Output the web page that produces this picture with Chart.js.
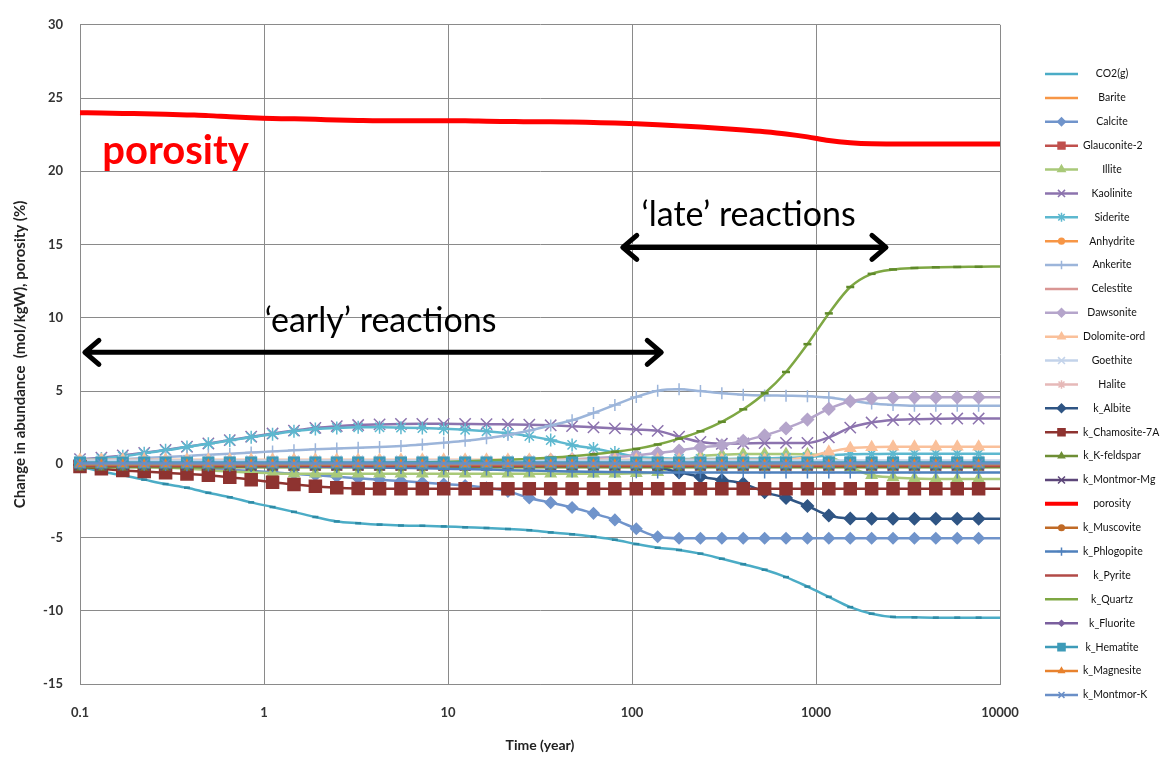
<!DOCTYPE html>
<html>
<head>
<meta charset="utf-8">
<title>Change in abundance vs time</title>
<script src="https://cdn.jsdelivr.net/npm/chart.js@4.4.1/dist/chart.umd.min.js"></script>
<style>
  html, body { margin: 0; padding: 0; background: #fff; }
  #wrap { width: 1169px; height: 757px; position: relative; }
</style>
</head>
<body>
<div id="wrap"><canvas id="abundanceChart"></canvas></div>
<script>
// ---------- data ----------
const time = [0.1, 0.1307, 0.1708, 0.2233, 0.2918, 0.3814, 0.4985, 0.6516, 0.8517, 1.113,
  1.455, 1.902, 2.486, 3.249, 4.247, 5.55, 7.254, 9.478, 12.39, 16.19,
  21.17, 27.66, 36.15, 47.25, 61.76, 80.72, 105.5, 137.9, 180.2, 235.5,
  307.8, 402.3, 525.8, 687.2, 898.4, 1174, 1535, 2006, 2622, 3427,
  4479, 5855, 7652, 10000];

const xTickValues = [0.1, 1, 10, 100, 1000, 10000];
const xTickLabels = ["0.1", "1", "10", "100", "1000", "10000"];
const yTickValues = [-15, -10, -5, 0, 5, 10, 15, 20, 25, 30];

const co2 = [-0.15, -0.5, -0.75, -1.05, -1.35, -1.6, -1.95, -2.25, -2.6, -2.92,
  -3.25, -3.6, -3.9, -4.02, -4.12, -4.18, -4.2, -4.24, -4.3, -4.35,
  -4.42, -4.5, -4.65, -4.78, -4.95, -5.15, -5.45, -5.7, -5.85, -6.1,
  -6.45, -6.82, -7.2, -7.7, -8.35, -9.05, -9.75, -10.2, -10.42, -10.45,
  -10.47, -10.47, -10.47, -10.47];
const barite = [0, 0, 0, 0, 0, 0, 0, 0, 0, 0, 0, 0, 0, 0, 0, 0, 0, 0, 0, 0, 0, 0,
  0, 0, 0, 0, 0, 0, 0, 0, 0, 0, 0, 0, 0, 0, 0, 0, 0, 0, 0, 0, 0, 0];
const calcite = [0, -0.02, -0.05, -0.1, -0.15, -0.22, -0.3, -0.38, -0.45, -0.55,
  -0.65, -0.75, -0.85, -0.95, -1.05, -1.15, -1.25, -1.35, -1.45, -1.6,
  -1.85, -2.3, -2.62, -2.95, -3.35, -3.8, -4.4, -4.95, -5.05, -5.05,
  -5.05, -5.05, -5.05, -5.05, -5.05, -5.05, -5.05, -5.05, -5.05, -5.05,
  -5.05, -5.05, -5.05, -5.05];
const glauconite = [-0.05, -0.05, -0.05, -0.05, -0.05, -0.05, -0.05, -0.05, -0.05, -0.05, -0.05,
  -0.05, -0.05, -0.05, -0.05, -0.05, -0.05, -0.05, -0.05, -0.05, -0.05, -0.05,
  -0.05, -0.05, -0.05, -0.05, -0.05, -0.05, -0.05, -0.05, -0.05, -0.05, -0.05,
  -0.05, -0.05, -0.05, -0.05, -0.05, -0.05, -0.05, -0.05, -0.05, -0.05, -0.05];
const illite = [0, -0.05, -0.1, -0.15, -0.22, -0.3, -0.4, -0.5, -0.57, -0.62,
  -0.65, -0.65, -0.65, -0.65, -0.65, -0.65, -0.65, -0.65, -0.65, -0.65,
  -0.65, -0.65, -0.65, -0.65, -0.65, -0.65, -0.62, -0.55, 0.1, 0.55,
  0.65, 0.7, 0.7, 0.7, 0.68, 0.55, -0.2, -0.75, -0.9, -0.97,
  -1.0, -1.0, -1.0, -1.0];
const kaolinite = [0.35, 0.45, 0.6, 0.78, 0.98, 1.2, 1.42, 1.65, 1.88, 2.1,
  2.3, 2.48, 2.6, 2.68, 2.72, 2.75, 2.76, 2.76, 2.75, 2.74,
  2.72, 2.7, 2.66, 2.6, 2.52, 2.45, 2.38, 2.28, 1.88, 1.52,
  1.4, 1.42, 1.45, 1.46, 1.46, 1.84, 2.5, 2.85, 3.02, 3.08,
  3.1, 3.12, 3.12, 3.12];
const siderite = [0.3, 0.4, 0.55, 0.75, 0.95, 1.18, 1.4, 1.62, 1.85, 2.05,
  2.25, 2.4, 2.48, 2.52, 2.52, 2.5, 2.47, 2.42, 2.35, 2.25,
  2.12, 1.92, 1.65, 1.32, 1.08, 0.8, 0.52, 0.42, 0.38, 0.36,
  0.36, 0.38, 0.4, 0.44, 0.5, 0.6, 0.68, 0.7, 0.72, 0.72,
  0.72, 0.72, 0.72, 0.72];
const anhydrite = [0.05, 0.05, 0.05, 0.05, 0.05, 0.05, 0.05, 0.05, 0.05, 0.05, 0.05,
  0.05, 0.05, 0.05, 0.05, 0.05, 0.05, 0.05, 0.05, 0.05, 0.05, 0.05,
  0.05, 0.05, 0.05, 0.05, 0.05, 0.05, 0.05, 0.05, 0.05, 0.05, 0.05,
  0.05, 0.05, 0.05, 0.05, 0.05, 0.05, 0.05, 0.05, 0.05, 0.05, 0.05];
const ankerite = [0.25, 0.3, 0.35, 0.42, 0.5, 0.57, 0.65, 0.72, 0.8, 0.88,
  0.95, 1.02, 1.08, 1.13, 1.18, 1.25, 1.35, 1.47, 1.6, 1.78,
  2.0, 2.3, 2.65, 3.0, 3.5, 4.05, 4.6, 5.02, 5.12, 5.0,
  4.85, 4.75, 4.7, 4.68, 4.65, 4.55, 4.35, 4.15, 4.05, 4.0,
  4.0, 4.0, 4.0, 4.0];
const celestite = [0, 0, 0, 0, 0, 0, 0, 0, 0, 0, 0, 0, 0, 0, 0, 0, 0, 0, 0, 0, 0, 0,
  0, 0, 0, 0, 0, 0, 0, 0, 0, 0, 0, 0, 0, 0, 0, 0, 0, 0, 0, 0, 0, 0];
const dawsonite = [0.2, 0.2, 0.2, 0.2, 0.2, 0.2, 0.2, 0.2, 0.2, 0.2,
  0.2, 0.2, 0.2, 0.2, 0.2, 0.2, 0.2, 0.2, 0.2, 0.2,
  0.22, 0.25, 0.3, 0.35, 0.42, 0.5, 0.6, 0.77, 0.94, 1.15,
  1.3, 1.6, 1.97, 2.45, 3.05, 3.78, 4.3, 4.5, 4.55, 4.57,
  4.57, 4.57, 4.57, 4.57];
const dolomite = [0.3, 0.3, 0.3, 0.3, 0.3, 0.3, 0.3, 0.3, 0.3, 0.3,
  0.3, 0.3, 0.3, 0.3, 0.3, 0.3, 0.3, 0.3, 0.3, 0.3,
  0.3, 0.3, 0.3, 0.3, 0.3, 0.3, 0.3, 0.3, 0.3, 0.3,
  0.3, 0.3, 0.3, 0.32, 0.5, 0.85, 1.1, 1.17, 1.2, 1.2,
  1.2, 1.2, 1.2, 1.2];
const goethite = [0.25, 0.25, 0.25, 0.25, 0.25, 0.25, 0.25, 0.25, 0.25, 0.25, 0.25,
  0.25, 0.25, 0.25, 0.25, 0.25, 0.25, 0.25, 0.25, 0.25, 0.25, 0.25,
  0.25, 0.25, 0.25, 0.25, 0.25, 0.25, 0.25, 0.25, 0.25, 0.25, 0.25,
  0.25, 0.25, 0.25, 0.25, 0.25, 0.25, 0.25, 0.25, 0.25, 0.25, 0.25];
const halite = [0.1, 0.1, 0.1, 0.1, 0.1, 0.1, 0.1, 0.1, 0.1, 0.1, 0.1,
  0.1, 0.1, 0.1, 0.1, 0.1, 0.1, 0.1, 0.1, 0.1, 0.1, 0.1,
  0.1, 0.1, 0.1, 0.1, 0.1, 0.1, 0.1, 0.1, 0.1, 0.1, 0.1,
  0.1, 0.1, 0.1, 0.1, 0.1, 0.1, 0.1, 0.1, 0.1, 0.1, 0.1];
const albite = [-0.05, -0.05, -0.05, -0.05, -0.05, -0.05, -0.05, -0.05, -0.05, -0.05,
  -0.05, -0.05, -0.05, -0.05, -0.05, -0.05, -0.05, -0.05, -0.05, -0.05,
  -0.05, -0.05, -0.05, -0.05, -0.05, -0.05, -0.08, -0.2, -0.55, -0.85,
  -1.08, -1.32, -1.9, -2.3, -2.85, -3.5, -3.7, -3.72, -3.72, -3.72,
  -3.72, -3.72, -3.72, -3.72];
const chamosite = [-0.15, -0.3, -0.42, -0.5, -0.58, -0.66, -0.75, -0.88, -1.05, -1.22,
  -1.38, -1.5, -1.6, -1.65, -1.67, -1.67, -1.67, -1.67, -1.67, -1.67,
  -1.67, -1.67, -1.67, -1.67, -1.67, -1.67, -1.67, -1.67, -1.67, -1.67,
  -1.67, -1.67, -1.67, -1.67, -1.67, -1.67, -1.67, -1.67, -1.67, -1.67,
  -1.67, -1.67, -1.67, -1.67];
const kFeldspar = [-0.2, -0.2, -0.2, -0.2, -0.2, -0.2, -0.2, -0.2, -0.2, -0.2, -0.2,
  -0.2, -0.2, -0.2, -0.2, -0.2, -0.2, -0.2, -0.2, -0.2, -0.2, -0.2,
  -0.2, -0.2, -0.2, -0.2, -0.2, -0.2, -0.2, -0.2, -0.2, -0.2, -0.2,
  -0.2, -0.2, -0.2, -0.2, -0.2, -0.2, -0.2, -0.2, -0.2, -0.2, -0.2];
const montmorMg = [-0.08, -0.08, -0.08, -0.08, -0.08, -0.08, -0.08, -0.08, -0.08, -0.08, -0.08,
  -0.08, -0.08, -0.08, -0.08, -0.08, -0.08, -0.08, -0.08, -0.08, -0.08, -0.08,
  -0.08, -0.08, -0.08, -0.08, -0.08, -0.08, -0.08, -0.08, -0.08, -0.08, -0.08,
  -0.08, -0.08, -0.08, -0.08, -0.08, -0.08, -0.08, -0.08, -0.08, -0.08, -0.08];
const porosity = [24.0, 23.98, 23.95, 23.93, 23.9, 23.85, 23.8, 23.72, 23.65, 23.6,
  23.58, 23.55, 23.5, 23.47, 23.45, 23.45, 23.45, 23.45, 23.45, 23.42,
  23.4, 23.38, 23.38, 23.36, 23.33, 23.3, 23.25, 23.18, 23.1, 23.02,
  22.92, 22.82, 22.7, 22.55, 22.35, 22.1, 21.95, 21.88, 21.87, 21.87,
  21.87, 21.87, 21.87, 21.87];
const muscovite = [0.02, 0.02, 0.02, 0.02, 0.02, 0.02, 0.02, 0.02, 0.02, 0.02, 0.02,
  0.02, 0.02, 0.02, 0.02, 0.02, 0.02, 0.02, 0.02, 0.02, 0.02, 0.02,
  0.02, 0.02, 0.02, 0.02, 0.02, 0.02, 0.02, 0.02, 0.02, 0.02, 0.02,
  0.02, 0.02, 0.02, 0.02, 0.02, 0.02, 0.02, 0.02, 0.02, 0.02, 0.02];
const phlogopite = [0, 0, -0.02, -0.03, -0.05, -0.07, -0.08, -0.1, -0.12, -0.13,
  -0.15, -0.17, -0.18, -0.2, -0.22, -0.25, -0.27, -0.3, -0.33, -0.36,
  -0.4, -0.43, -0.46, -0.49, -0.51, -0.53, -0.55, -0.56, -0.57, -0.57,
  -0.57, -0.57, -0.57, -0.57, -0.57, -0.57, -0.57, -0.57, -0.57, -0.57,
  -0.57, -0.57, -0.57, -0.57];
const pyrite = [-0.12, -0.12, -0.12, -0.12, -0.12, -0.12, -0.12, -0.12, -0.12, -0.12, -0.12,
  -0.12, -0.12, -0.12, -0.12, -0.12, -0.12, -0.12, -0.12, -0.12, -0.12, -0.12,
  -0.12, -0.12, -0.12, -0.12, -0.12, -0.12, -0.12, -0.12, -0.12, -0.12, -0.12,
  -0.12, -0.12, -0.12, -0.12, -0.12, -0.12, -0.12, -0.12, -0.12, -0.12, -0.12];
const quartz = [0, 0, 0, 0, 0, 0, 0, 0, 0, 0,
  0, 0, 0, 0.05, 0.08, 0.1, 0.13, 0.16, 0.2, 0.25,
  0.3, 0.37, 0.45, 0.55, 0.68, 0.85, 1.05, 1.35, 1.75, 2.25,
  2.9, 3.75, 4.85, 6.3, 8.2, 10.3, 12.1, 13.0, 13.3, 13.4,
  13.45, 13.47, 13.48, 13.5];
const fluorite = [0, 0, 0, 0, 0, 0, 0, 0, 0, 0, 0, 0, 0, 0, 0, 0, 0, 0, 0, 0, 0, 0,
  0, 0, 0, 0, 0, 0, 0, 0, 0, 0, 0, 0, 0, 0, 0, 0, 0, 0, 0, 0, 0, 0];
const hematite = [0.12, 0.12, 0.12, 0.12, 0.12, 0.12, 0.12, 0.12, 0.12, 0.12, 0.12,
  0.12, 0.12, 0.12, 0.12, 0.12, 0.12, 0.12, 0.12, 0.12, 0.12, 0.12,
  0.12, 0.12, 0.12, 0.12, 0.12, 0.12, 0.12, 0.12, 0.12, 0.12, 0.12,
  0.12, 0.12, 0.12, 0.12, 0.12, 0.12, 0.12, 0.12, 0.12, 0.12, 0.12];
const magnesite = [0, 0, 0, 0, 0, 0, 0, 0, 0, 0, 0, 0, 0, 0, 0, 0, 0, 0, 0, 0, 0, 0,
  0, 0, 0, 0, 0, 0, 0, 0, 0, 0, 0, 0, 0, 0, 0, 0, 0, 0, 0, 0, 0, 0];
const montmorK = [0.05, 0.05, 0.05, 0.05, 0.05, 0.05, 0.05, 0.05, 0.05, 0.05, 0.05,
  0.05, 0.05, 0.05, 0.05, 0.05, 0.05, 0.05, 0.05, 0.05, 0.05, 0.05,
  0.05, 0.05, 0.05, 0.05, 0.05, 0.05, 0.05, 0.05, 0.05, 0.05, 0.05,
  0.05, 0.05, 0.05, 0.05, 0.05, 0.05, 0.05, 0.05, 0.05, 0.05, 0.05];

// ---------- series styling (legend order, last one drawn on top) ----------
const series = [
  { label: "CO2(g)", data: co2, color: "#4BACC6", mark: "line", r: 3, mc: "#2E8AA5" },
  { label: "Barite", data: barite, color: "#F79646", mark: null },
  { label: "Calcite", data: calcite, color: "#7094CB", mark: "rectRot", r: 5.5 },
  { label: "Glauconite-2", data: glauconite, color: "#C0504D", mark: "rect", r: 7 },
  { label: "Illite", data: illite, color: "#A9C979", mark: "triangle", r: 6 },
  { label: "Kaolinite", data: kaolinite, color: "#8C73AE", mark: "crossRot", r: 8 },
  { label: "Siderite", data: siderite, color: "#5DB8CF", mark: "star", r: 6.5 },
  { label: "Anhydrite", data: anhydrite, color: "#F79646", mark: "circle", r: 4 },
  { label: "Ankerite", data: ankerite, color: "#9CB5DA", mark: "cross", r: 6 },
  { label: "Celestite", data: celestite, color: "#D99694", mark: null },
  { label: "Dawsonite", data: dawsonite, color: "#B5A5CB", mark: "rectRot", r: 6 },
  { label: "Dolomite-ord", data: dolomite, color: "#FAC09A", mark: "triangle", r: 6 },
  { label: "Goethite", data: goethite, color: "#C3D3EA", mark: "crossRot", r: 7 },
  { label: "Halite", data: halite, color: "#E6B9B8", mark: "star", r: 6 },
  { label: "k_Albite", data: albite, color: "#2F5584", mark: "rectRot", r: 6 },
  { label: "k_Chamosite-7A", data: chamosite, color: "#8E3330", mark: "rect", r: 8.5 },
  { label: "k_K-feldspar", data: kFeldspar, color: "#6E8E35", mark: "triangle", r: 5 },
  { label: "k_Montmor-Mg", data: montmorMg, color: "#5C4679", mark: "crossRot", r: 7 },
  { label: "porosity", data: porosity, color: "#FF0000", mark: null, width: 5 },
  { label: "k_Muscovite", data: muscovite, color: "#C06A26", mark: "circle", r: 4 },
  { label: "k_Phlogopite", data: phlogopite, color: "#4F81BD", mark: "cross", r: 6 },
  { label: "k_Pyrite", data: pyrite, color: "#B24A47", mark: null },
  { label: "k_Quartz", data: quartz, color: "#7EA743", mark: "line", r: 4, mc: "#5F8A2A" },
  { label: "k_Fluorite", data: fluorite, color: "#7A5F9E", mark: "rectRot", r: 4 },
  { label: "k_Hematite", data: hematite, color: "#3E9BB8", mark: "rect", r: 7.5 },
  { label: "k_Magnesite", data: magnesite, color: "#E8822E", mark: "triangle", r: 4.5 },
  { label: "k_Montmor-K", data: montmorK, color: "#6A8FC7", mark: "crossRot", r: 6 }
];

const FONT = "Lato, 'Open Sans', sans-serif";
const lastIndex = time.length - 1;

const datasets = series.map(function (s, i) {
  const markColor = s.mc || s.color;
  return {
    label: s.label,
    data: time.map(function (t, k) { return { x: t, y: s.data[k] }; }),
    borderColor: s.color,
    backgroundColor: s.color,
    borderWidth: s.width || 2.5,
    cubicInterpolationMode: "monotone",
    pointStyle: s.mark || "circle",
    pointRadius: function (c) { return (!s.mark || c.dataIndex === lastIndex) ? 0 : s.r; },
    pointHoverRadius: 0,
    pointBackgroundColor: markColor,
    pointBorderColor: markColor,
    pointBorderWidth: (s.mark === "line") ? 2.5 : 1.5,
    clip: false,
    order: series.length - i
  };
});

// ---------- text and arrows drawn over the plot ----------
const notes = {
  early: { from: 0.105, to: 146, y: 7.64, text: "\u2018early\u2019 reactions", at: 4.3, baseline: 9.0 },
  late: { from: 88, to: 2430, y: 14.8, text: "\u2018late\u2019 reactions", at: 430, baseline: 16.25 },
  poro: { text: "porosity", at: 0.132, baseline: 20.5 }
};

function doubleArrow(ctx, x1, x2, y) {
  const head = 15, half = 12;
  ctx.beginPath();
  ctx.moveTo(x1 + 2, y);
  ctx.lineTo(x2 - 2, y);
  ctx.moveTo(x1 + head, y - half);
  ctx.lineTo(x1 + 1, y);
  ctx.lineTo(x1 + head, y + half);
  ctx.moveTo(x2 - head, y - half);
  ctx.lineTo(x2 - 1, y);
  ctx.lineTo(x2 - head, y + half);
  ctx.stroke();
}

const notesPlugin = {
  id: "notesPlugin",
  afterDatasetsDraw: function (chart) {
    const ctx = chart.ctx;
    const xs = chart.scales.x, ys = chart.scales.y;
    ctx.save();
    ctx.strokeStyle = "#000";
    ctx.lineWidth = 5;
    ctx.lineCap = "round";
    ctx.lineJoin = "round";
    [notes.early, notes.late].forEach(function (n) {
      doubleArrow(ctx, xs.getPixelForValue(n.from), xs.getPixelForValue(n.to), ys.getPixelForValue(n.y));
      ctx.fillStyle = "#000";
      ctx.font = "34px " + FONT;
      ctx.textAlign = "center";
      ctx.textBaseline = "alphabetic";
      ctx.fillText(n.text, xs.getPixelForValue(n.at), ys.getPixelForValue(n.baseline));
    });
    ctx.fillStyle = "#FF0000";
    ctx.font = "bold 40px " + FONT;
    ctx.textAlign = "left";
    ctx.fillText(notes.poro.text, xs.getPixelForValue(notes.poro.at), ys.getPixelForValue(notes.poro.baseline));
    ctx.restore();
  }
};

// ---------- legend on the right: line sample with marker, then the name ----------
function marker(ctx, style, radius, x, y) {
  if (Chart.helpers && Chart.helpers.drawPoint) {
    Chart.helpers.drawPoint(ctx, { pointStyle: style, radius: radius, rotation: 0, borderWidth: ctx.lineWidth }, x, y);
  }
}

const sideLegend = {
  id: "sideLegend",
  afterDraw: function (chart) {
    const ctx = chart.ctx;
    ctx.save();
    series.forEach(function (s, i) {
      const y = 74 + i * 23.88;
      ctx.strokeStyle = s.color;
      ctx.lineWidth = s.width ? 4 : 2.5;
      ctx.beginPath();
      ctx.moveTo(1045, y);
      ctx.lineTo(1078, y);
      ctx.stroke();
      if (s.mark && s.mark !== "line") {
        ctx.fillStyle = s.mc || s.color;
        ctx.strokeStyle = s.mc || s.color;
        ctx.lineWidth = 1.5;
        marker(ctx, s.mark, Math.min(s.r * 0.7, 5), 1061.5, y);
      }
      ctx.fillStyle = "#111";
      ctx.font = "10.5px " + FONT;
      ctx.textBaseline = "middle";
      ctx.textAlign = "left";
      const w = ctx.measureText(s.label).width;
      ctx.fillText(s.label, Math.max(1083, 1112 - w / 2), y);
    });
    ctx.restore();
  }
};

// ---------- chart ----------
const tickFont = { family: FONT, size: 13, weight: "bold" };
const gridColor = "#8A8A8A";

new Chart(document.getElementById("abundanceChart"), {
  type: "line",
  data: { datasets: datasets },
  plugins: [notesPlugin, sideLegend],
  options: {
    responsive: true,
    maintainAspectRatio: false,
    animation: false,
    events: [],
    layout: { padding: { left: 0, top: 14, right: 169, bottom: 0 } },
    plugins: {
      legend: { display: false },
      tooltip: { enabled: false }
    },
    scales: {
      x: {
        type: "logarithmic",
        min: 0.1,
        max: 10000,
        afterBuildTicks: function (scale) {
          scale.ticks = xTickValues.map(function (v) { return { value: v }; });
        },
        afterFit: function (scale) { scale.height = 73; },
        ticks: {
          autoSkip: false,
          maxRotation: 0,
          padding: 21,
          color: "#333",
          font: tickFont,
          callback: function (value) {
            const k = xTickValues.indexOf(value);
            return k >= 0 ? xTickLabels[k] : "";
          }
        },
        grid: { color: gridColor, drawTicks: false },
        border: { color: gridColor },
        title: {
          display: true,
          text: "Time (year)",
          color: "#222",
          font: { family: FONT, size: 14, weight: "bold" },
          padding: { top: 0, bottom: 3 }
        }
      },
      y: {
        min: -15,
        max: 30,
        afterBuildTicks: function (scale) {
          scale.ticks = yTickValues.map(function (v) { return { value: v }; });
        },
        afterFit: function (scale) { scale.width = 80; },
        ticks: { padding: 17, color: "#333", font: tickFont },
        grid: { color: gridColor, drawTicks: false },
        border: { color: gridColor },
        title: {
          display: true,
          text: "Change in abundance  (mol/kgW), porosity (%)",
          color: "#222",
          font: { family: FONT, size: 15, weight: "bold" },
          padding: { top: 11, bottom: 0 }
        }
      }
    }
  }
});
</script>
</body>
</html>
